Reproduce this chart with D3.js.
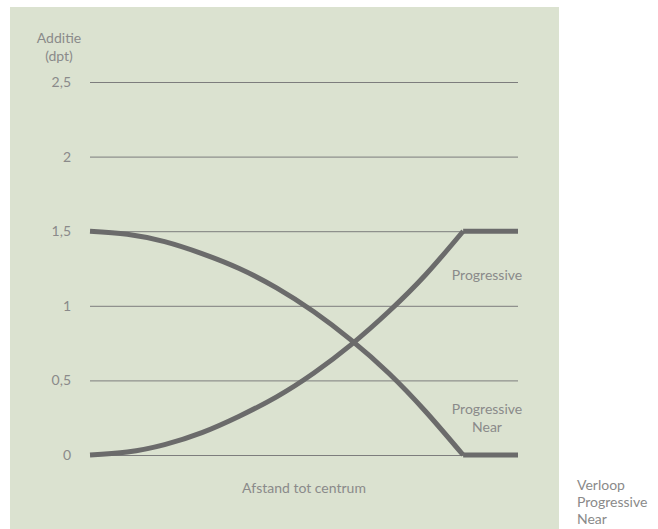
<!DOCTYPE html>
<html><head><meta charset="utf-8">
<script src="https://cdn.jsdelivr.net/npm/d3@7"></script>
<style>
html,body{margin:0;padding:0;background:#fff;}
svg text{font-family:Lato,"Open Sans",sans-serif;fill:#8a8a8a;font-size:14px;}
</style></head>
<body><svg id="c" width="658" height="529"></svg>
<script>
// distance to centre (relative; 1 = end of progression zone, 1.147 = edge)
const distance = [0, 0.1, 0.2, 0.3, 0.4, 0.5, 0.6, 0.7, 0.8, 0.9, 1.0];
const progressive = [0, 0.02, 0.07, 0.15, 0.26, 0.39, 0.55, 0.74, 0.96, 1.21, 1.5];
const progressiveNear = [1.5, 1.48, 1.43, 1.35, 1.25, 1.12, 0.96, 0.77, 0.55, 0.29, 0];
const plateauX = [1.0, 1.147];
const yTicks = [0, 0.5, 1, 1.5, 2, 2.5];
const yTickLabels = ["0", "0,5", "1", "1,5", "2", "2,5"];
const yTitle = ["Additie", "(dpt)"];
const xTitle = "Afstand tot centrum";
const legendLines = ["Verloop", "Progressive", "Near"];

const svg = d3.select("#c");
svg.append("rect").attr("x", 10).attr("y", 7).attr("width", 549).attr("height", 522).attr("fill", "#dbe2d0");

const x = d3.scaleLinear().domain([0, 1.147]).range([90, 518]);
const y = d3.scaleLinear().domain([0, 2.5]).range([455, 82]);

// gridlines
const yAxis = d3.axisLeft(y).tickValues(yTicks).tickSize(-(518 - 90)).tickPadding(19)
  .tickFormat((d, i) => yTickLabels[i]);
const g = svg.append("g").attr("transform", "translate(90,0)").call(yAxis);
g.select(".domain").remove();
g.selectAll(".tick line").attr("stroke", "#7d7d7d").attr("stroke-width", 1);
g.selectAll(".tick text").attr("font-size", 14).attr("fill", "#8a8a8a")
  .attr("font-family", "Lato, sans-serif");

// curves
const line = d3.line().x(d => x(d[0])).y(d => y(d[1])).curve(d3.curveNatural);
const flat = d3.line().x(d => x(d[0])).y(d => y(d[1]));
function drawSeries(vals) {
  const pts = distance.map((d, i) => [d, vals[i]]);
  svg.append("path").attr("d", line(pts)).attr("fill", "none")
    .attr("stroke", "#6b6b6b").attr("stroke-width", 5);
  const end = vals[vals.length - 1];
  svg.append("path").attr("d", flat(plateauX.map(p => [p, end]))).attr("fill", "none")
    .attr("stroke", "#6b6b6b").attr("stroke-width", 5);
}
drawSeries(progressive);
drawSeries(progressiveNear);

// titles
svg.append("text").attr("x", 59).attr("y", 43).attr("text-anchor", "middle").attr("font-size", 13.5).text(yTitle[0]);
svg.append("text").attr("x", 59).attr("y", 61).attr("text-anchor", "middle").attr("font-size", 13.5).text(yTitle[1]);
svg.append("text").attr("x", 304).attr("y", 493).attr("text-anchor", "middle").text(xTitle);

// series labels
svg.append("text").attr("x", 487).attr("y", 280).attr("text-anchor", "middle").text("Progressive");
svg.append("text").attr("x", 487).attr("y", 414).attr("text-anchor", "middle").text("Progressive");
svg.append("text").attr("x", 487).attr("y", 432).attr("text-anchor", "middle").text("Near");

// outside caption
legendLines.forEach((t, i) => {
  svg.append("text").attr("x", 577).attr("y", 490 + i * 17).attr("font-size", 13.5).text(t);
});
</script></body></html>
